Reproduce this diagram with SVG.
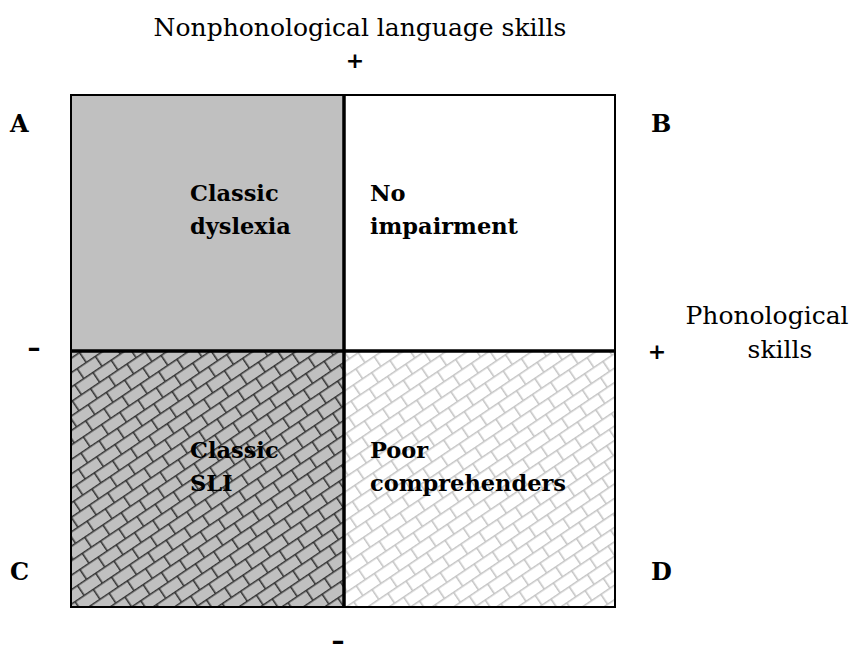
<svg xmlns="http://www.w3.org/2000/svg" width="850" height="657" viewBox="0 0 850 657">
  <style>
    .t { font-family: "DejaVu Serif", "Liberation Serif", serif; fill: #000; }
    .axis { font-size: 25px; }
    .lbl { font-size: 22.5px; font-weight: bold; }
    .corner { font-size: 24px; font-weight: bold; }
    .sign { font-family: "DejaVu Sans", "Liberation Sans", sans-serif; font-size: 22px; font-weight: bold; text-anchor: middle; }
    .dash { font-family: "DejaVu Sans", "Liberation Sans", sans-serif; font-size: 26px; font-weight: bold; text-anchor: middle; }
    .frame { fill: none; stroke: #000; stroke-width: 2; }
    .div { stroke: #000; stroke-width: 3.5; }
  </style>
  <defs>
    <!-- diagonal brick hatch, dark mortar on grey -->
    <pattern id="brickDark" width="22" height="24" patternUnits="userSpaceOnUse" patternTransform="rotate(-34)">
      <rect width="22" height="24" fill="#c0c0c0"/>
      <path d="M0 0.75H22M0 12.75H22M0.75 0V12.75M11.75 12.75V24" stroke="#333333" stroke-width="1.6" fill="none"/>
    </pattern>
    <!-- diagonal brick hatch, light mortar on white -->
    <pattern id="brickLight" width="22" height="24" patternUnits="userSpaceOnUse" patternTransform="rotate(-34)">
      <rect width="22" height="24" fill="#ffffff"/>
      <path d="M0 0.75H22M0 12.75H22M0.75 0V12.75M11.75 12.75V24" stroke="#c4c4c4" stroke-width="1.6" fill="none"/>
    </pattern>
  </defs>

  <!-- axis labels -->
  <text class="t axis" x="360" y="36" text-anchor="middle">Nonphonological language skills</text>
  <text class="sign" x="355" y="68">+</text>
  <text class="t axis" x="767" y="324" text-anchor="middle">Phonological</text>
  <text class="t axis" x="780" y="358" text-anchor="middle">skills</text>
  <text class="sign" x="657" y="359">+</text>
  <text class="dash" x="34" y="357">–</text>
  <text class="dash" x="338" y="650">–</text>

  <!-- quadrants -->
  <g id="quadA">
    <rect x="71" y="95" width="273" height="256" fill="#c0c0c0"/>
    <text class="t lbl" x="190" y="201">Classic</text>
    <text class="t lbl" x="190" y="234">dyslexia</text>
  </g>
  <g id="quadB">
    <rect x="344" y="95" width="271" height="256" fill="#ffffff"/>
    <text class="t lbl" x="370" y="201">No</text>
    <text class="t lbl" x="370" y="234">impairment</text>
  </g>
  <g id="quadC">
    <rect x="71" y="351" width="273" height="256" fill="url(#brickDark)"/>
    <text class="t lbl" x="190" y="458">Classic</text>
    <text class="t lbl" x="190" y="491">SLI</text>
  </g>
  <g id="quadD">
    <rect x="344" y="351" width="271" height="256" fill="url(#brickLight)"/>
    <text class="t lbl" x="370" y="458">Poor</text>
    <text class="t lbl" x="370" y="491">comprehenders</text>
  </g>

  <!-- frame and dividers -->
  <g id="grid">
    <rect class="frame" x="71" y="95" width="544" height="512"/>
    <line class="div" x1="344" y1="94" x2="344" y2="608"/>
    <line class="div" x1="70" y1="351" x2="616" y2="351"/>
  </g>

  <!-- corner letters -->
  <text class="t corner" x="10" y="132">A</text>
  <text class="t corner" x="651" y="132">B</text>
  <text class="t corner" x="10" y="580">C</text>
  <text class="t corner" x="651" y="580">D</text>
</svg>
